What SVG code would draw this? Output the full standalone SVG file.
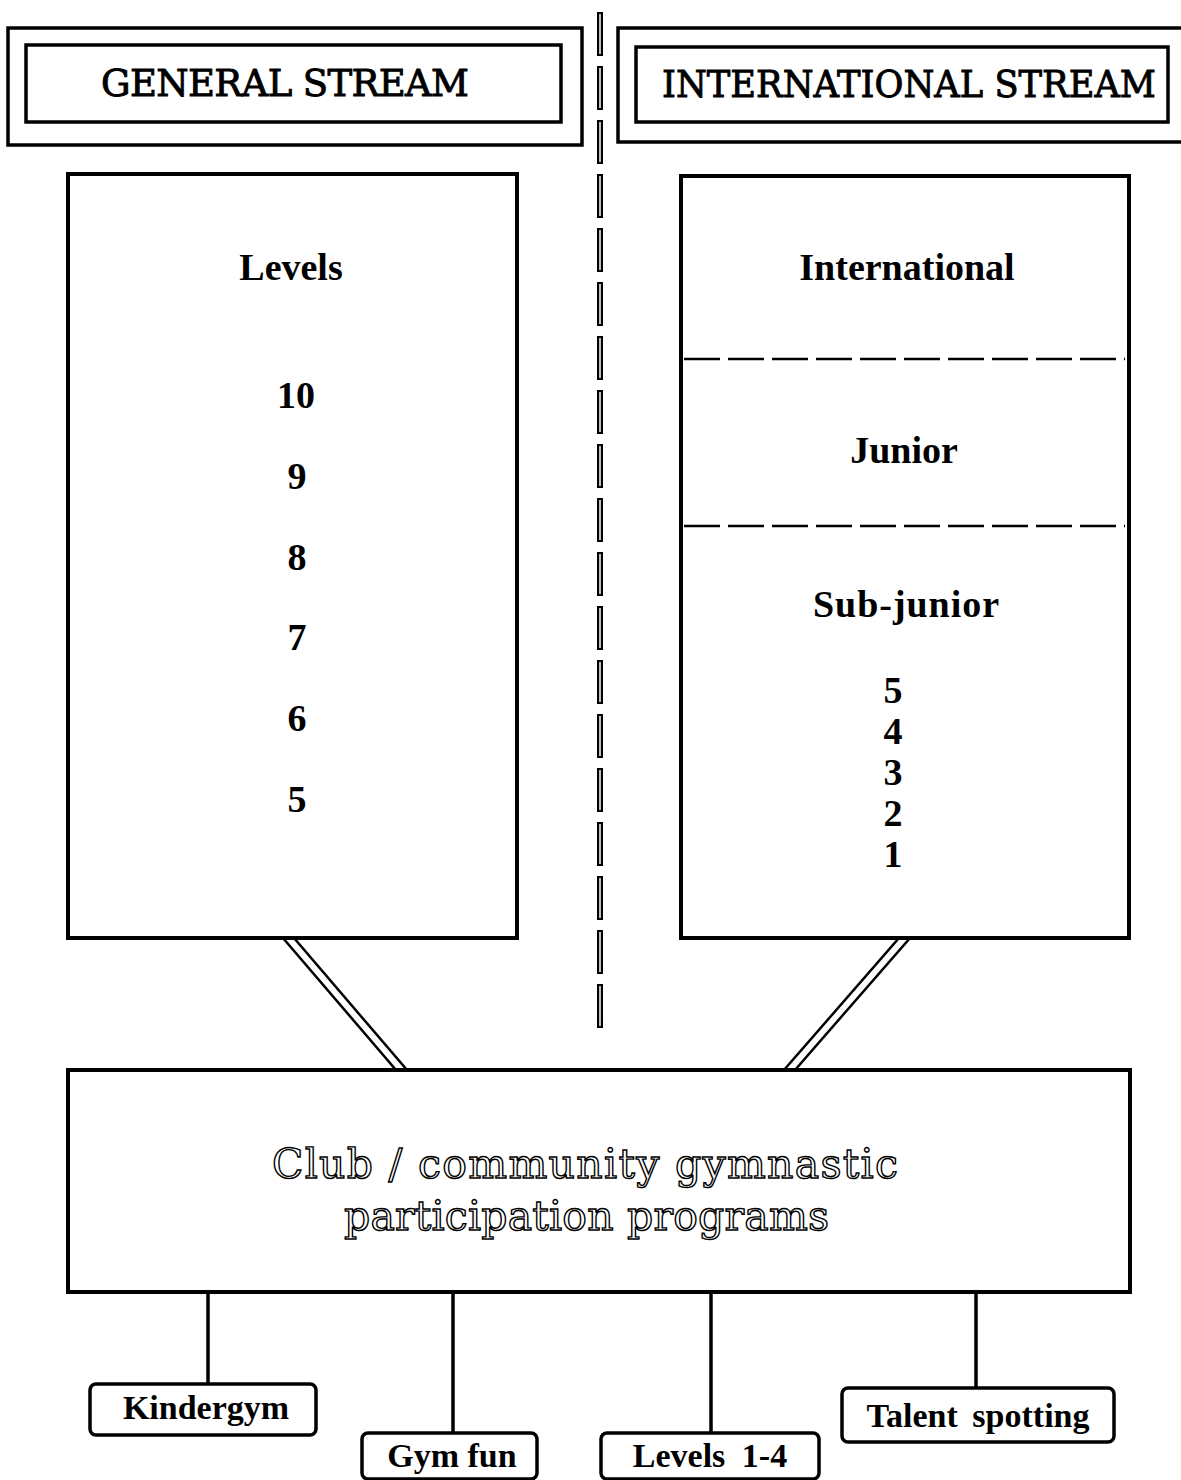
<svg xmlns="http://www.w3.org/2000/svg" width="1181" height="1480" viewBox="0 0 1181 1480">
<style>
.bg{fill:#fff}
.box{fill:#fff;stroke:#000;stroke-width:4}
.hbox{fill:#fff;stroke:#000;stroke-width:3.5}
.sbox{fill:#fff;stroke:#000;stroke-width:3.5}
.lbl{font-family:"Liberation Serif","Times New Roman",serif;font-weight:bold;font-size:38px;text-anchor:middle;fill:#000}
.sm{font-size:34px}
.hdr{font-family:"DejaVu Serif","Liberation Serif",serif;font-size:37px;fill:#000;stroke:#000;stroke-width:0.9}
.club{font-family:"DejaVu Serif","Liberation Serif",serif;font-size:41px;fill:#fff;stroke:#000;stroke-width:1.4}
.dash{stroke:#000;stroke-width:2.5;stroke-dasharray:36 8;fill:none}
.vline{stroke:#000;stroke-width:3.5;fill:none}
.strip{fill:#fff;stroke:#000;stroke-width:2.5}
.divo{stroke:#000;stroke-width:6;stroke-dasharray:44 10;fill:none}
.divi{stroke:#fff;stroke-width:1.5;stroke-dasharray:40 14;stroke-dashoffset:-2;fill:none}
</style>
<rect class="bg" x="0" y="0" width="1181" height="1480"/>

<g id="connectors">
  <line class="divo" x1="600" y1="12" x2="600" y2="1038"/>
  <line class="divi" x1="600" y1="12" x2="600" y2="1038"/>
  <polygon class="strip" points="283,938 294,938 407,1070 396,1070"/>
  <polygon class="strip" points="899,938 910,938 795,1070 784,1070"/>
  <line class="vline" x1="208" y1="1292" x2="208" y2="1384"/>
  <line class="vline" x1="453" y1="1292" x2="453" y2="1433"/>
  <line class="vline" x1="711" y1="1292" x2="711" y2="1433"/>
  <line class="vline" x1="976" y1="1292" x2="976" y2="1388"/>
</g>

<g id="general-header">
  <rect class="hbox" x="8" y="28" width="574" height="117"/>
  <rect class="hbox" x="26" y="45" width="535" height="77"/>
  <text class="hdr" x="101" y="96" textLength="368" lengthAdjust="spacing">GENERAL STREAM</text>
</g>

<g id="international-header">
  <rect class="hbox" x="618" y="28" width="600" height="114"/>
  <rect class="hbox" x="636" y="47" width="532" height="75"/>
  <text class="hdr" x="662" y="97" textLength="494" lengthAdjust="spacingAndGlyphs">INTERNATIONAL STREAM</text>
</g>

<g id="general-levels">
  <rect class="box" x="68" y="174" width="449" height="764"/>
  <text class="lbl" x="291" y="280">Levels</text>
  <text class="lbl" x="296" y="408">10</text>
  <text class="lbl" x="297" y="489">9</text>
  <text class="lbl" x="297" y="570">8</text>
  <text class="lbl" x="297" y="650">7</text>
  <text class="lbl" x="297" y="731">6</text>
  <text class="lbl" x="297" y="812">5</text>
</g>

<g id="international-levels">
  <rect class="box" x="681" y="176" width="448" height="762"/>
  <line class="dash" x1="684" y1="359" x2="1125" y2="359"/>
  <line class="dash" x1="684" y1="526" x2="1125" y2="526"/>
  <text class="lbl" x="907" y="280">International</text>
  <text class="lbl" x="904" y="463">Junior</text>
  <text class="lbl" x="906" y="617" textLength="186" lengthAdjust="spacing">Sub-junior</text>
  <text class="lbl" x="893" y="703">5</text>
  <text class="lbl" x="893" y="744">4</text>
  <text class="lbl" x="893" y="785">3</text>
  <text class="lbl" x="893" y="826">2</text>
  <text class="lbl" x="893" y="867">1</text>
</g>

<g id="club-programs">
  <rect class="box" x="68" y="1070" width="1062" height="222"/>
  <text class="club" x="272" y="1178" textLength="626" lengthAdjust="spacing">Club / community gymnastic</text>
  <text class="club" x="344" y="1230" textLength="485" lengthAdjust="spacing">participation programs</text>
</g>

<g id="kindergym">
  <rect class="sbox" x="90" y="1384" width="226" height="51" rx="6"/>
  <text class="lbl sm" x="206" y="1419">Kindergym</text>
</g>

<g id="gym-fun">
  <rect class="sbox" x="362" y="1433" width="175" height="46" rx="6"/>
  <text class="lbl sm" x="452" y="1467">Gym fun</text>
</g>

<g id="levels-1-4">
  <rect class="sbox" x="601" y="1433" width="218" height="46" rx="6"/>
  <text class="lbl sm" x="710" y="1467" word-spacing="8">Levels 1-4</text>
</g>

<g id="talent-spotting">
  <rect class="sbox" x="842" y="1388" width="272" height="54" rx="6"/>
  <text class="lbl sm" x="978" y="1427" word-spacing="6">Talent spotting</text>
</g>
</svg>
